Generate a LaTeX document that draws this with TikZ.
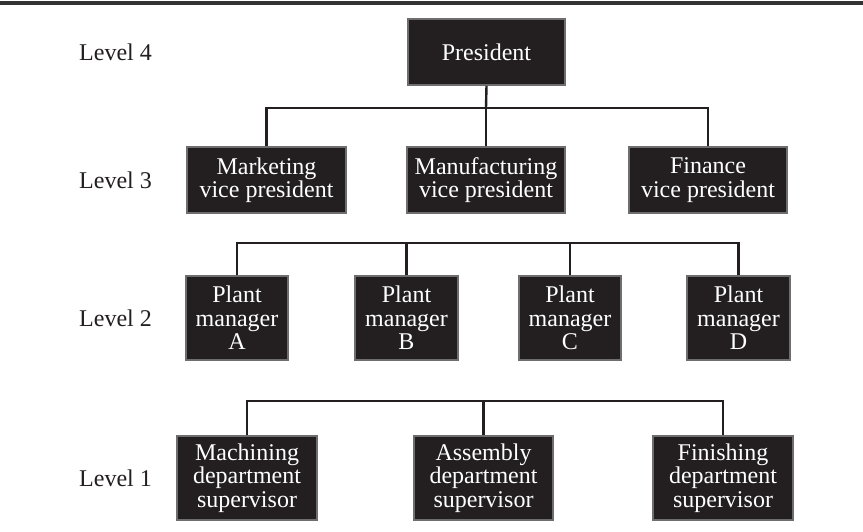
\documentclass[tikz,border=0pt]{standalone}
\usepackage{fontspec}
\setmainfont{Liberation Serif}
\definecolor{boxfill}{HTML}{231F20}
\definecolor{boxedge}{HTML}{6E6E6E}
\definecolor{ink}{HTML}{231F20}
\definecolor{rulec}{HTML}{333333}
\begin{document}
\begin{tikzpicture}[x=1pt,y=-1pt,
  orgbox/.style={draw=boxedge, line width=1.6pt, fill=boxfill, text=white,
    inner sep=0pt, align=center, font=\fontsize{24}{23.5}\selectfont},
  lvl/.style={anchor=west, inner sep=0pt, text=ink, font=\fontsize{24}{26}\selectfont},
  conn/.style={draw=ink, line width=2.4pt}]
\useasboundingbox (0,0) rectangle (863,532);
\fill[white] (0,0) rectangle (863,532);
\draw[rulec, line width=4pt] (0,3) -- (863,3);

% level labels
\node[lvl] (l4) at (79,52) {Level 4};
\node[lvl] (l3) at (79,180) {Level 3};
\node[lvl] (l2) at (79,318) {Level 2};
\node[lvl] (l1) at (79,478) {Level 1};

% level 4
\node[orgbox, minimum width=157pt, minimum height=66pt] (pres) at (486.5,52) {President};

% level 3
\node[orgbox, minimum width=159pt, minimum height=66pt] (mkt) at (266.5,180) {Marketing\\vice president};
\node[orgbox, minimum width=158pt, minimum height=66pt] (mfg) at (486,180) {Manufacturing\\vice president};
\node[orgbox, minimum width=158pt, minimum height=66pt] (fin) at (708,180) {Finance\\vice president};

% level 2
\node[orgbox, minimum width=102pt, minimum height=84pt] (pa) at (237,318) {Plant\\manager\\A};
\node[orgbox, minimum width=103pt, minimum height=84pt] (pb) at (406.5,318) {Plant\\manager\\B};
\node[orgbox, minimum width=102pt, minimum height=84pt] (pc) at (570,318) {Plant\\manager\\C};
\node[orgbox, minimum width=103pt, minimum height=84pt] (pd) at (738.5,318) {Plant\\manager\\D};

% level 1
\node[orgbox, minimum width=140pt, minimum height=84pt] (ma) at (247,478) {Machining\\department\\supervisor};
\node[orgbox, minimum width=139pt, minimum height=84pt] (as) at (483.5,478) {Assembly\\department\\supervisor};
\node[orgbox, minimum width=140pt, minimum height=84pt] (fi) at (723,478) {Finishing\\department\\supervisor};

% connectors
\coordinate (bus3) at (486,108);
\coordinate (bus2) at (480,243);
\coordinate (bus1) at (483,401);

\draw[conn] (pres.south) -- (bus3);
\draw[conn] (mkt.north) |- (bus3) -| (fin.north);
\draw[conn] (mfg.north) -- (mfg.north |- bus3);

\draw[conn] (pa.north) |- (bus2) -| (pd.north);
\draw[conn] (pb.north) -- (pb.north |- bus2);
\draw[conn] (pc.north) -- (pc.north |- bus2);

\draw[conn] (ma.north) |- (bus1) -| (fi.north);
\draw[conn] (as.north) -- (as.north |- bus1);
\end{tikzpicture}
\end{document}
